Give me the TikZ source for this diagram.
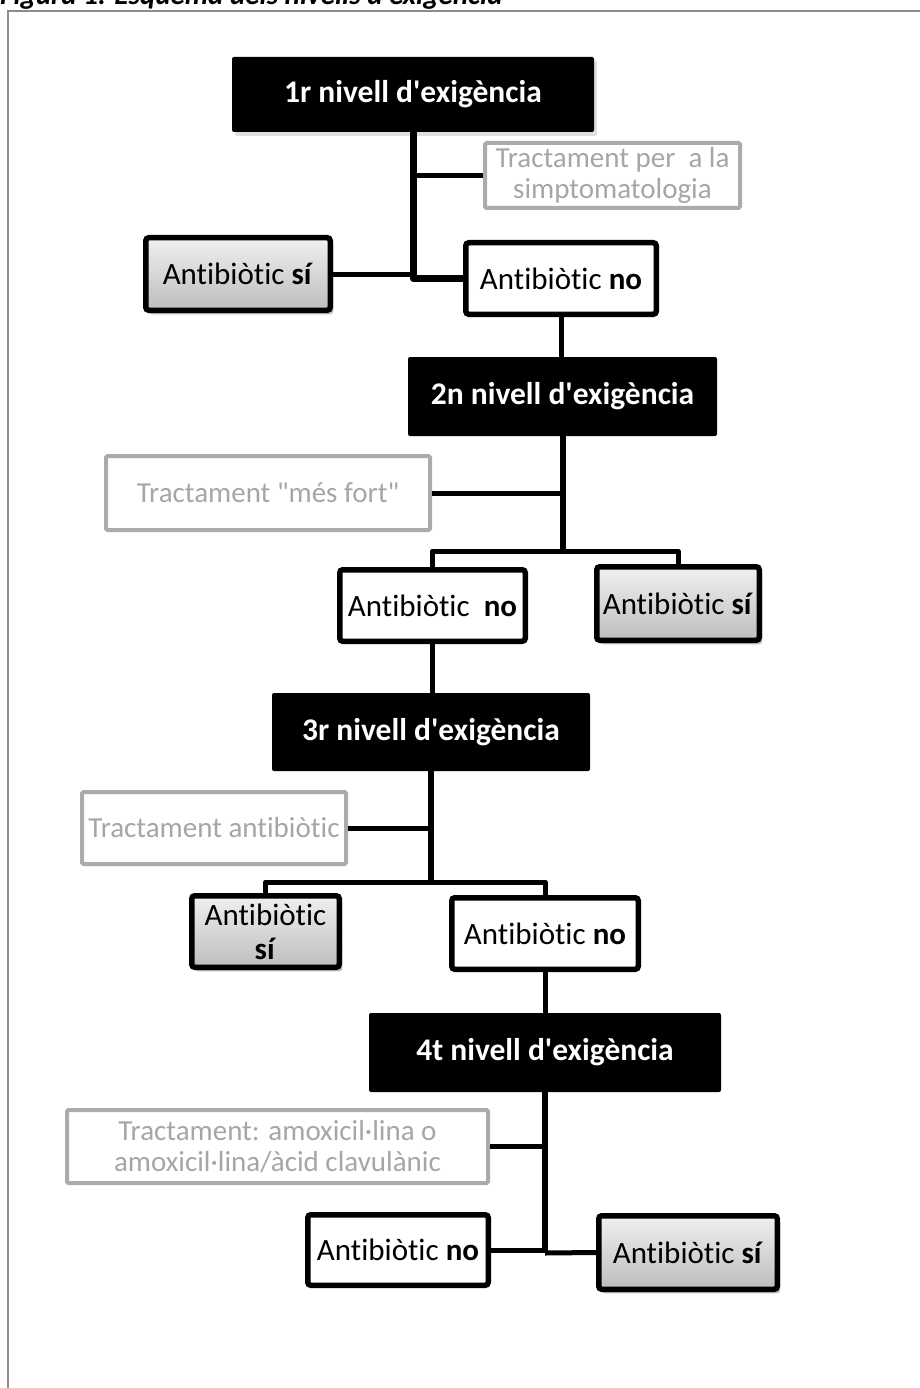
\documentclass[tikz,border=0pt]{standalone}
\usepackage{fontspec}
\newfontfamily\calfont{Carlito}[Ligatures=NoCommon]
\usetikzlibrary{shadows}
\definecolor{framegray}{HTML}{8C8C8C}
\definecolor{boxgray}{HTML}{ABABAB}
\definecolor{txtgray}{HTML}{A6A6A6}
\definecolor{sitop}{HTML}{F0F0F0}
\definecolor{sibot}{HTML}{BDBDBD}
\tikzset{
  levelbox/.style={fill=black, text=white, inner sep=0pt, rounded corners=2pt,
    font=\calfont\bfseries\fontsize{31.5}{37}\selectfont},
  abbox/.style={draw=black, line width=5.5pt, inner sep=0pt, rounded corners=3pt,
    align=center, font=\calfont\fontsize{31}{34}\selectfont},
  nobox/.style={abbox, fill=white},
  sibox/.style={abbox, top color=sitop, bottom color=sibot,
    drop shadow={shadow xshift=3pt, shadow yshift=-4pt, opacity=0.25, fill=black}},
  trtbox/.style={draw=boxgray, line width=4pt, fill=white, inner sep=0pt, rounded corners=1.5pt,
    text=txtgray, align=center, font=\calfont\fontsize{29}{31}\selectfont},
  trunk/.style={line width=6pt, black},
  branch/.style={line width=5pt, black},
}
\begin{document}
\begin{tikzpicture}[x=1pt,y=-1pt]
\useasboundingbox (0,0) rectangle (919,1388);
\begin{scope}
\clip (0,0) rectangle (919,1388);
\node[anchor=base west, inner sep=0pt, font=\calfont\bfseries\itshape\fontsize{29}{33}\selectfont] (title) at (0,4.5) {Figura 1. Esquema dels nivells d'exigència};
\end{scope}
\draw[framegray, line width=2pt] (8,1390) -- (8,11) -- (921,11);

% level 1
\node[levelbox, minimum width=362pt, minimum height=75pt,
  drop shadow={shadow xshift=3pt, shadow yshift=-4pt, opacity=0.25}] (L1) at (413,94.5) {1r nivell d'exigència};
\node[trtbox, minimum width=255pt, minimum height=65pt] (T1) at (612.5,175.5) {Tractament per\ \ a la\\simptomatologia};
\node[sibox, minimum width=184.5pt, minimum height=72.5pt] (S1) at (238,274) {Antibiòtic \textbf{sí}};
\node[nobox, minimum width=190.5pt, minimum height=71.5pt] (N1) at (561,278.5) {Antibiòtic \textbf{no}};
\draw[branch] (T1.west) -- (T1.west -| L1.south);
\draw[branch] (S1.east) -- (S1.east -| L1.south);
\draw[line width=7pt, line join=round] (L1.south) |- (N1.west);

% level 2
\node[levelbox, minimum width=309pt, minimum height=79pt] (L2) at (562.5,396.5) {2n nivell d'exigència};
\draw[branch] (N1.south) -- (N1.south |- L2.north);
\node[trtbox, minimum width=324pt, minimum height=74pt] (T2) at (268,493) {Tractament "més fort"};
\node[nobox, minimum width=185.5pt, minimum height=71.5pt] (N2) at (432.5,605.5) {Antibiòtic\ \ \textbf{no}};
\node[sibox, minimum width=162.5pt, minimum height=73.5pt] (S2) at (678,603.5) {Antibiòtic \textbf{sí}};
\coordinate (J2) at (562.5,551);
\draw[trunk] (L2.south) -- (J2);
\draw[branch] (T2.east) -- (T2.east -| L2.south);
\draw[branch, line join=round] (N2.north) |- (J2) -| (S2.north);

% level 3
\node[levelbox, minimum width=318pt, minimum height=78pt] (L3) at (431,732) {3r nivell d'exigència};
\draw[branch] (N2.south) -- (N2.south |- L3.north);
\node[trtbox, minimum width=264pt, minimum height=72pt] (T3) at (214,828) {Tractament antibiòtic};
\node[sibox, minimum width=147.5pt, minimum height=71.5pt] (S3) at (265.5,931.5) {Antibiòtic\\\textbf{sí}};
\node[nobox, minimum width=186.5pt, minimum height=71.5pt] (N3) at (545,933.5) {Antibiòtic \textbf{no}};
\coordinate (J3) at (431,882);
\draw[trunk] (L3.south) -- (J3);
\draw[branch] (T3.east) -- (T3.east -| L3.south);
\draw[branch, line join=round] (S3.north) |- (J3) -| (N3.north);

% level 4
\node[levelbox, minimum width=352pt, minimum height=79pt] (L4) at (545,1052.5) {4t nivell d'exigència};
\draw[branch] (N3.south) -- (N3.south |- L4.north);
\node[trtbox, minimum width=421pt, minimum height=73pt] (T4) at (277.5,1146.5) {Tractament: amoxicil·lina o\\amoxicil·lina/àcid clavulànic};
\node[nobox, minimum width=180.5pt, minimum height=70.5pt] (N4) at (398,1250) {Antibiòtic \textbf{no}};
\node[sibox, minimum width=178.5pt, minimum height=73.5pt] (S4) at (688,1252.5) {Antibiòtic \textbf{sí}};
\coordinate (J4) at (545,1253);
\draw[trunk] (L4.south) -- (J4);
\draw[branch] (T4.east) -- (T4.east -| L4.south);
\draw[branch] (N4.east) -- (N4.east -| J4);
\draw[branch] (S4.west) -- (J4);
\end{tikzpicture}
\end{document}
